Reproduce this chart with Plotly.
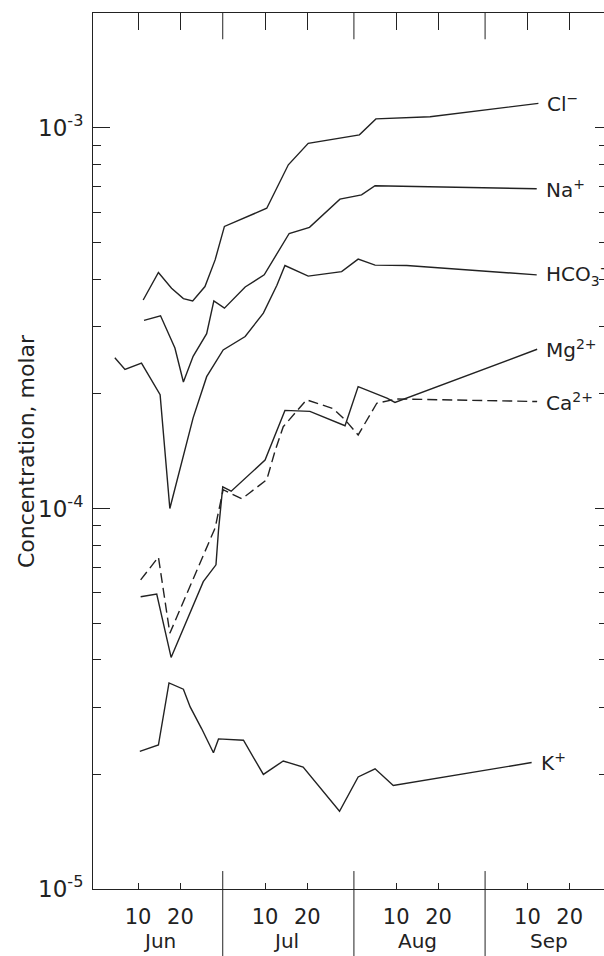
import math
import plotly.graph_objects as go

# Sampling days are counted from 31 May (1 Jun = day 1, 1 Jul = day 31, ...)
month_names = ["Jun", "Jul", "Aug", "Sep"]
month_lengths = [30, 31, 31, 30]
tick_days_in_month = [10, 20]

cl_days = [11.2, 14.8, 17.9, 20.7, 22.9, 25.8, 28.2, 30.4, 40.4, 45.5, 50.2, 62.3, 66.2, 79.0, 104.6]
cl_vals = [3.53e-4, 4.17e-4, 3.79e-4, 3.56e-4, 3.51e-4, 3.83e-4, 4.50e-4, 5.51e-4, 6.15e-4,
           8.0e-4, 9.11e-4, 9.59e-4, 1.056e-3, 1.07e-3, 1.16e-3]

na_days = [11.4, 15.3, 18.7, 20.7, 23.0, 26.2, 27.9, 30.4, 35.3, 39.8, 45.7, 50.5, 57.7, 62.8, 66.0, 104.2]
na_vals = [3.12e-4, 3.21e-4, 2.64e-4, 2.15e-4, 2.51e-4, 2.88e-4, 3.51e-4, 3.36e-4, 3.82e-4,
           4.11e-4, 5.28e-4, 5.48e-4, 6.50e-4, 6.67e-4, 7.05e-4, 6.92e-4]

hco3_days = [4.5, 6.9, 10.8, 15.2, 17.5, 23.0, 26.2, 30.1, 35.3, 39.6, 42.8, 44.7, 50.2, 58.1,
             62.0, 66.0, 73.5, 104.2]
hco3_vals = [2.49e-4, 2.32e-4, 2.41e-4, 1.99e-4, 1.0e-4, 1.73e-4, 2.22e-4, 2.61e-4, 2.83e-4,
             3.26e-4, 3.86e-4, 4.35e-4, 4.08e-4, 4.19e-4, 4.52e-4, 4.36e-4, 4.35e-4, 4.11e-4]

mg_days = [10.6, 14.4, 17.8, 22.3, 25.4, 28.4, 29.0, 30.0, 32.0, 40.0, 44.7, 50.6, 58.9, 62.0,
           68.8, 70.7, 104.3]
mg_vals = [5.86e-5, 5.96e-5, 4.06e-5, 5.31e-5, 6.42e-5, 7.11e-5, 8.77e-5, 1.14e-4, 1.11e-4,
           1.34e-4, 1.81e-4, 1.80e-4, 1.65e-4, 2.09e-4, 1.95e-4, 1.90e-4, 2.62e-4]

ca_days = [10.6, 14.8, 17.5, 28.2, 30.1, 34.5, 36.4, 40.4, 42.4, 44.3, 49.8, 56.1, 58.9, 62.0,
           66.4, 71.1, 104.3]
ca_vals = [6.49e-5, 7.45e-5, 4.70e-5, 8.89e-5, 1.12e-4, 1.06e-4, 1.10e-4, 1.19e-4, 1.42e-4,
           1.64e-4, 1.93e-4, 1.83e-4, 1.71e-4, 1.56e-4, 1.89e-4, 1.94e-4, 1.91e-4]

k_days = [10.4, 14.8, 17.3, 20.7, 22.3, 25.0, 27.8, 29.0, 34.9, 39.6, 44.3, 49.0, 57.6, 62.0,
          66.0, 70.3, 103.0]
k_vals = [2.30e-5, 2.39e-5, 3.48e-5, 3.35e-5, 3.01e-5, 2.64e-5, 2.28e-5, 2.48e-5, 2.46e-5,
          2.00e-5, 2.17e-5, 2.09e-5, 1.60e-5, 1.97e-5, 2.07e-5, 1.87e-5, 2.15e-5]

series = [
    ("Cl<sup>\u2212</sup>", cl_days, cl_vals, "solid"),
    ("Na<sup>+</sup>", na_days, na_vals, "solid"),
    ("HCO<sub>3</sub><sup>\u2212</sup>", hco3_days, hco3_vals, "solid"),
    ("Mg<sup>2+</sup>", mg_days, mg_vals, "solid"),
    ("Ca<sup>2+</sup>", ca_days, ca_vals, "10px,5px"),
    ("K<sup>+</sup>", k_days, k_vals, "solid"),
]

y_major = [1e-5, 1e-4, 1e-3]
y_major_text = ["10<sup>-5</sup>", "10<sup>-4</sup>", "10<sup>-3</sup>"]
y_minor = [m * 10.0 ** e for e in (-5, -4) for m in range(2, 10)]
y_minor += [m * 1e-4 for m in range(2, 10)]
y_range = [-5, -2.698]
x_range = [-0.66, 120.1]

INK = "#222222"
FONT = "DejaVu Sans"

# month boundaries and day-of-month tick positions
month_starts = []
acc = 0
for n in month_lengths:
    month_starts.append(acc)
    acc += n
tick_vals = [s + d for s in month_starts for d in tick_days_in_month]
tick_text = [str(d) for s in month_starts for d in tick_days_in_month]

fig = go.Figure()
for name, xs, ys, dash in series:
    fig.add_trace(go.Scatter(
        x=xs, y=ys, mode="lines", name=name,
        line=dict(color=INK, width=1.4, dash=dash),
        showlegend=False, hoverinfo="skip",
    ))
    fig.add_annotation(
        x=xs[-1], y=math.log10(ys[-1]), text=name, showarrow=False,
        xanchor="left", yanchor="middle", xshift=7,
        font=dict(family=FONT, size=20, color=INK),
    )

# carrier for the top / right frame axes
fig.add_trace(go.Scatter(x=[None], y=[None], xaxis="x2", yaxis="y2",
                         showlegend=False, hoverinfo="skip"))

# month names centred under each pair of day ticks
for i, name in enumerate(month_names):
    fig.add_annotation(
        x=month_starts[i] + sum(tick_days_in_month) / 2, xref="x",
        y=-0.0595, yref="paper", text=name, showarrow=False,
        xanchor="center", yanchor="middle",
        font=dict(family=FONT, size=20, color=INK),
    )

# month separators: below the axis through the labels, and at the top frame
for s in month_starts[1:]:
    fig.add_shape(type="line", xref="x", yref="paper", x0=s, x1=s, y0=-0.08, y1=0.0205,
                  line=dict(color=INK, width=1))
    fig.add_shape(type="line", xref="x", yref="paper", x0=s, x1=s, y0=0.970, y1=1.0,
                  line=dict(color=INK, width=1))

fig.add_annotation(
    x=-0.131, xref="paper", y=0.5, yref="paper", text="Concentration, molar",
    textangle=-90, showarrow=False, xanchor="center", yanchor="middle",
    font=dict(family=FONT, size=22, color=INK),
)

axis_common = dict(showgrid=False, zeroline=False, showline=True, linecolor=INK, linewidth=1,
                   ticks="inside", tickcolor=INK, tickwidth=1)

fig.update_layout(
    width=604, height=956, autosize=False,
    margin=dict(l=93, r=0, t=13, b=67),
    paper_bgcolor="white", plot_bgcolor="white",
    font=dict(family=FONT, color=INK),
    xaxis=dict(range=x_range, tickmode="array", tickvals=tick_vals, ticktext=tick_text,
               ticklen=6, tickfont=dict(size=21, family=FONT, color=INK),
               ticklabelstandoff=9, **axis_common),
    xaxis2=dict(range=x_range, overlaying="x", side="top", tickmode="array",
                tickvals=tick_vals, ticklen=17, showticklabels=False, **axis_common),
    yaxis=dict(type="log", range=y_range, tickmode="array", tickvals=y_major,
               ticktext=y_major_text, ticklen=17,
               tickfont=dict(size=23, family=FONT, color=INK), ticklabelstandoff=4,
               minor=dict(tickmode="array", tickvals=y_minor, ticks="inside", ticklen=8,
                          tickcolor=INK, tickwidth=1),
               **axis_common),
    yaxis2=dict(type="log", range=y_range, overlaying="y", side="right", tickmode="array",
                tickvals=y_major, ticklen=9, showticklabels=False,
                minor=dict(tickmode="array", tickvals=y_minor, ticks="inside", ticklen=5,
                           tickcolor=INK, tickwidth=1),
                **axis_common),
)

fig.write_html("out.html")
